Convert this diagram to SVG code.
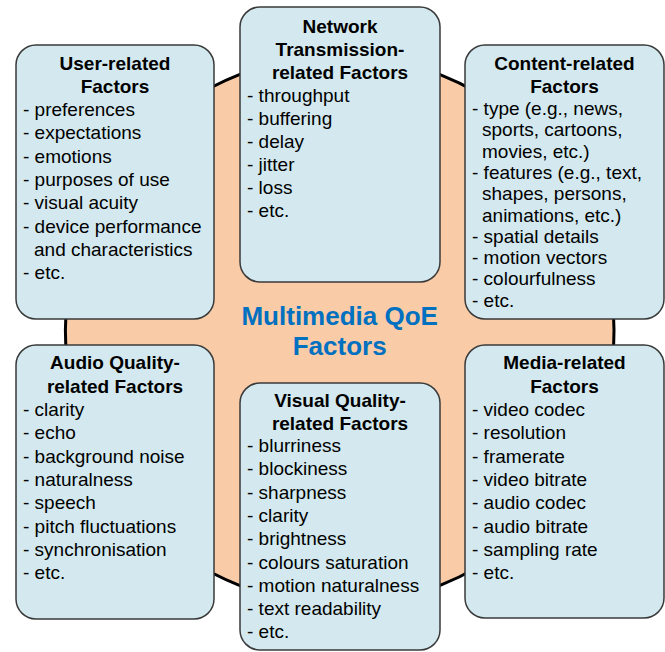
<svg xmlns="http://www.w3.org/2000/svg" width="665" height="652" viewBox="0 0 665 652">
<style>
.box{fill:#D3E9EF;stroke:#3a3a3a;stroke-width:1.5}
.h{font-family:"Liberation Sans",Arial,sans-serif;font-size:19px;font-weight:bold;fill:#000;text-anchor:middle}
.t{font-family:"Liberation Sans",Arial,sans-serif;font-size:19px;fill:#000}
.c{font-family:"Liberation Sans",Arial,sans-serif;font-size:26px;font-weight:bold;fill:#0070C0;text-anchor:middle}
</style>
<rect width="665" height="652" fill="#fff"/>
<g id="center">
<circle cx="339.7" cy="330" r="274.3" fill="#F9CBA6" stroke="#000" stroke-width="3"/>
<text class="c" x="339.7" y="325">Multimedia QoE</text>
<text class="c" x="339.7" y="355">Factors</text>
</g>
<g id="connectors"></g>
<g id="user">
<rect class="box" x="16" y="45" width="198" height="274" rx="20"/>
<text class="h" x="115" y="70">User-related</text>
<text class="h" x="115" y="93">Factors</text>
<text class="t" x="23" y="116">- preferences</text>
<text class="t" x="23" y="139.3">- expectations</text>
<text class="t" x="23" y="162.6">- emotions</text>
<text class="t" x="23" y="185.9">- purposes of use</text>
<text class="t" x="23" y="209.2">- visual acuity</text>
<text class="t" x="23" y="232.5">- device performance</text>
<text class="t" x="34" y="255.8">and characteristics</text>
<text class="t" x="23" y="279.1">- etc.</text>
</g>
<g id="network">
<rect class="box" x="240" y="7" width="200" height="275" rx="20"/>
<text class="h" x="340" y="33">Network</text>
<text class="h" x="340" y="56">Transmission-</text>
<text class="h" x="340" y="79">related Factors</text>
<text class="t" x="247" y="102">- throughput</text>
<text class="t" x="247" y="125">- buffering</text>
<text class="t" x="247" y="148">- delay</text>
<text class="t" x="247" y="171">- jitter</text>
<text class="t" x="247" y="194">- loss</text>
<text class="t" x="247" y="217">- etc.</text>
</g>
<g id="content">
<rect class="box" x="465" y="45" width="199" height="274" rx="20"/>
<text class="h" x="564.5" y="70">Content-related</text>
<text class="h" x="564.5" y="93">Factors</text>
<text class="t" x="472" y="115">- type (e.g., news,</text>
<text class="t" x="482" y="136.3">sports, cartoons,</text>
<text class="t" x="482" y="157.6">movies, etc.)</text>
<text class="t" x="472" y="178.9">- features (e.g., text,</text>
<text class="t" x="482" y="200.2">shapes, persons,</text>
<text class="t" x="482" y="221.5">animations, etc.)</text>
<text class="t" x="472" y="242.8">- spatial details</text>
<text class="t" x="472" y="264.1">- motion vectors</text>
<text class="t" x="472" y="285.4">- colourfulness</text>
<text class="t" x="472" y="306.7">- etc.</text>
</g>
<g id="audio">
<rect class="box" x="16" y="345" width="198" height="274" rx="20"/>
<text class="h" x="115" y="369">Audio Quality-</text>
<text class="h" x="115" y="393">related Factors</text>
<text class="t" x="23" y="416">- clarity</text>
<text class="t" x="23" y="439.3">- echo</text>
<text class="t" x="23" y="462.6">- background noise</text>
<text class="t" x="23" y="485.9">- naturalness</text>
<text class="t" x="23" y="509.2">- speech</text>
<text class="t" x="23" y="532.5">- pitch fluctuations</text>
<text class="t" x="23" y="555.8">- synchronisation</text>
<text class="t" x="23" y="579.1">- etc.</text>
</g>
<g id="visual">
<rect class="box" x="240" y="383" width="200" height="267" rx="20"/>
<text class="h" x="340" y="407">Visual Quality-</text>
<text class="h" x="340" y="430">related Factors</text>
<text class="t" x="247" y="452">- blurriness</text>
<text class="t" x="247" y="475.3">- blockiness</text>
<text class="t" x="247" y="498.6">- sharpness</text>
<text class="t" x="247" y="521.9">- clarity</text>
<text class="t" x="247" y="545.2">- brightness</text>
<text class="t" x="247" y="568.5">- colours saturation</text>
<text class="t" x="247" y="591.8">- motion naturalness</text>
<text class="t" x="247" y="615.1">- text readability</text>
<text class="t" x="247" y="638.4">- etc.</text>
</g>
<g id="media">
<rect class="box" x="465" y="345" width="199" height="273" rx="20"/>
<text class="h" x="564.5" y="369">Media-related</text>
<text class="h" x="564.5" y="393">Factors</text>
<text class="t" x="472" y="416">- video codec</text>
<text class="t" x="472" y="439.3">- resolution</text>
<text class="t" x="472" y="462.6">- framerate</text>
<text class="t" x="472" y="485.9">- video bitrate</text>
<text class="t" x="472" y="509.2">- audio codec</text>
<text class="t" x="472" y="532.5">- audio bitrate</text>
<text class="t" x="472" y="555.8">- sampling rate</text>
<text class="t" x="472" y="579.1">- etc.</text>
</g>
</svg>
